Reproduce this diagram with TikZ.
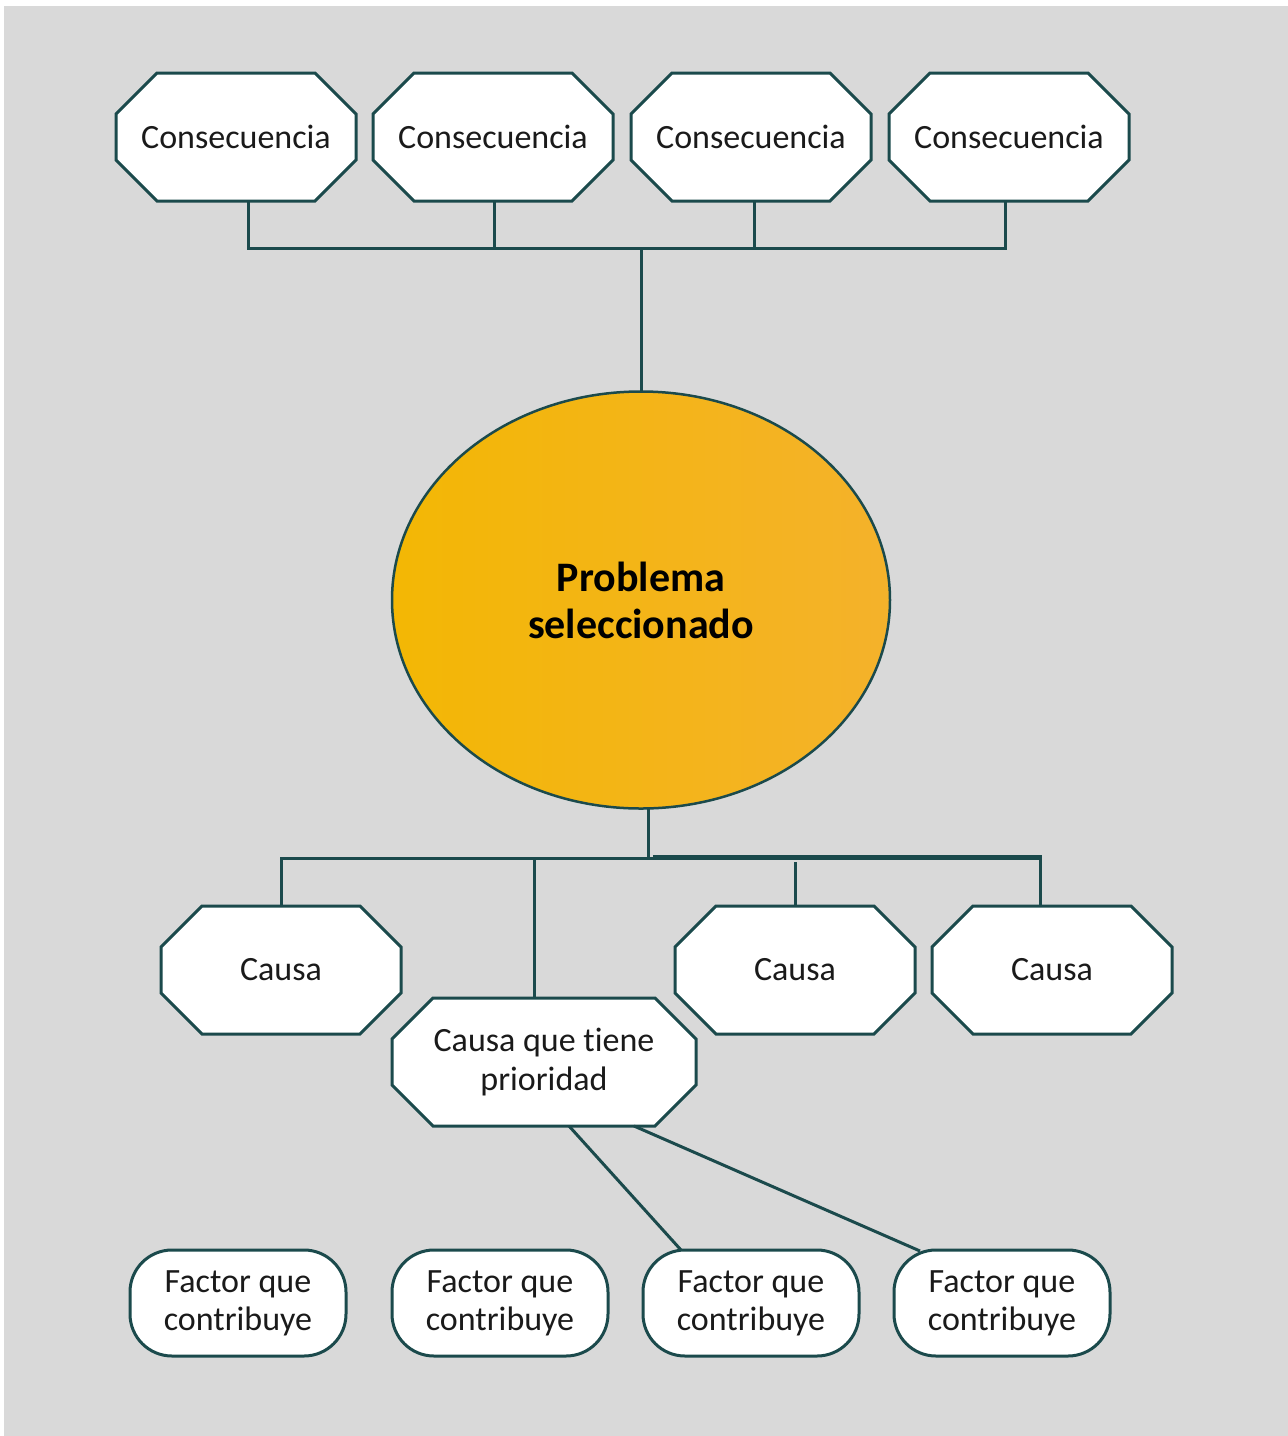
\documentclass[tikz,border=0pt]{standalone}
\usepackage{fontspec}
\setmainfont{Carlito}[Ligatures=NoCommon]
\usetikzlibrary{shapes.geometric}
\definecolor{panel}{HTML}{D9D9D9}
\definecolor{edge}{HTML}{1B4A4C}
\definecolor{goldL}{HTML}{F3B704}
\definecolor{goldR}{HTML}{F4B22B}
\definecolor{ink}{HTML}{1A1A1A}
\pgfdeclarelayer{canvas}
\pgfdeclarelayer{frames}
\pgfsetlayers{canvas,frames,main}
\begin{document}
\begin{tikzpicture}[x=1pt,y=-1pt,
  link/.style={draw=edge, line width=3pt},
  octline/.style={draw=edge, line width=3pt, fill=white, line join=miter},
  octbox/.style={rectangle, minimum width=240pt, minimum height=128pt,
    inner sep=0pt, outer sep=0pt, text=ink,
    font=\fontsize{34}{39}\selectfont, align=center},
  factor/.style={rectangle, rounded corners=42pt, draw=edge, line width=3pt,
    fill=white, minimum width=216pt, minimum height=106pt, inner sep=0pt,
    outer sep=0pt, text=ink, font=\fontsize{34}{38}\selectfont, align=center}]
% canvas
\useasboundingbox (0,0) rectangle (1288,1436);
\begin{pgfonlayer}{canvas}
\fill[white] (0,0) rectangle (1288,1436);
\fill[panel] (4,6) rectangle (1288,1436);
\end{pgfonlayer}

% consequences
\node[octbox] (c1) at (236,137) {Consecuencia};
\node[octbox] (c2) at (493,137) {Consecuencia};
\node[octbox] (c3) at (751,137) {Consecuencia};
\node[octbox] (c4) at (1009,137) {Consecuencia};

% central problem
\node[ellipse, minimum width=498pt, minimum height=417pt, draw=edge,
  line width=2.5pt, outer sep=0pt, left color=goldL, right color=goldR,
  font=\bfseries\fontsize{42}{47}\selectfont, align=center]
  (prob) at (641,600) {Problema\\seleccionado};

% causes
\node[octbox] (k1) at (281,970) {Causa};
\node[octbox] (k2) at (795,970) {Causa};
\node[octbox] (k3) at (1052,970) {Causa};
\node[octbox, minimum width=304pt] (kp) at (544,1062) {Causa que tiene\\prioridad};

% octagonal frames behind the texts
\begin{pgfonlayer}{frames}
\foreach \n in {c1,c2,c3,c4,k1,k2,k3,kp}
  \filldraw[octline]
    ([xshift=41pt]\n.north west) -- ([xshift=-41pt]\n.north east)
    -- ([yshift=-41pt]\n.north east) -- ([yshift=41pt]\n.south east)
    -- ([xshift=-41pt]\n.south east) -- ([xshift=41pt]\n.south west)
    -- ([yshift=41pt]\n.south west) -- ([yshift=-41pt]\n.north west) -- cycle;
\end{pgfonlayer}

% contributing factors
\node[factor] (f1) at (238,1303) {Factor que\\contribuye};
\node[factor] (f2) at (500,1303) {Factor que\\contribuye};
\node[factor] (f3) at (751,1303) {Factor que\\contribuye};
\node[factor] (f4) at (1002,1303) {Factor que\\contribuye};

% consequence bus
\coordinate (bus) at (641,248);
\draw[link] ([xshift=12pt]c1.south) |- (bus) -| ([xshift=-4pt]c4.south);
\draw[link] ([xshift=1pt]c2.south) -- ([xshift=1pt]c2.south |- bus);
\draw[link] ([xshift=3pt]c3.south) -- ([xshift=3pt]c3.south |- bus);
\draw[link] (bus) -- (prob.north);

% cause bus
\coordinate (cbus) at (648,858);
\coordinate (cbusR) at (1042,858);
\draw[link] ([xshift=7pt]prob.south) -- (cbus);
\draw[link] (k1.north) |- (cbus) -| ([xshift=-12pt]k3.north);
\draw[link] ([xshift=5pt,yshift=1.5pt]cbus) -- ([yshift=1.5pt]cbusR);
\draw[link] ([xshift=-10pt]kp.north) -- ([xshift=-10pt]kp.north |- cbus);
\draw[link] (k2.north) -- ([yshift=-4pt]k2.north |- cbus);

% factor links
\draw[link] ([xshift=25pt]kp.south) -- ([xshift=-70pt]f3.north);
\draw[link] ([xshift=90pt]kp.south) -- ([xshift=-82pt,yshift=-1pt]f4.north);
\end{tikzpicture}
\end{document}
